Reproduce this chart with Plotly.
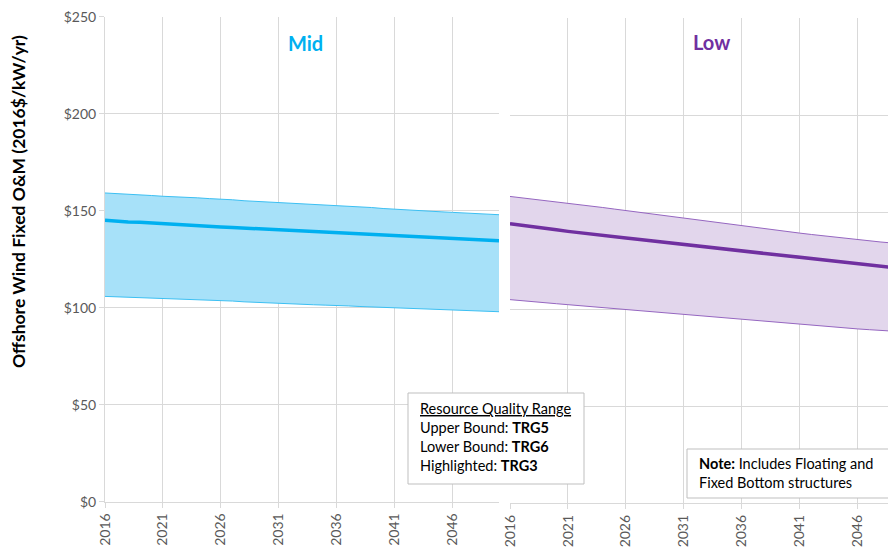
import plotly.graph_objects as go

years = list(range(2016, 2051))

mid_upper = [159.1, 158.8, 158.6, 158.4, 157.8, 157.4, 157.2, 157.0, 156.6, 156.2,
             156.0, 155.6, 155.1, 154.8, 154.6, 154.3, 154.0, 153.6, 153.4, 153.0,
             152.6, 152.3, 151.9, 151.6, 151.1, 150.7, 150.3, 149.9, 149.7, 149.4,
             149.1, 148.8, 148.4, 148.1, 147.9]
mid_center = [145.0, 144.5, 144.2, 144.0, 143.6, 143.3, 143.0, 142.7, 142.4, 142.0,
              141.6, 141.3, 141.0, 140.7, 140.3, 140.0, 139.8, 139.5, 139.1, 138.8,
              138.5, 138.2, 137.9, 137.6, 137.3, 137.1, 136.8, 136.5, 136.1, 135.9,
              135.6, 135.3, 135.0, 134.7, 134.5]
mid_lower = [105.8, 105.6, 105.4, 105.2, 105.0, 104.8, 104.6, 104.4, 104.1, 103.8,
             103.6, 103.4, 103.0, 102.7, 102.4, 102.2, 102.0, 101.8, 101.5, 101.3,
             101.2, 100.9, 100.6, 100.4, 100.2, 100.0, 99.8, 99.5, 99.3, 99.1,
             99.0, 98.7, 98.5, 98.2, 97.9]

low_upper = [158.2, 157.5, 156.9, 156.2, 155.6, 154.8, 154.0, 153.2, 152.5, 151.7,
             150.9, 150.2, 149.4, 148.6, 147.9, 147.1, 146.3, 145.6, 144.8, 144.0,
             143.3, 142.5, 141.7, 140.9, 140.1, 139.3, 138.6, 137.9, 137.3, 136.6,
             135.9, 135.3, 134.7, 134.2, 133.7]
low_center = [144.2, 143.3, 142.6, 141.9, 141.0, 140.2, 139.6, 138.9, 138.2, 137.5,
              136.8, 136.1, 135.4, 134.7, 134.0, 133.3, 132.7, 132.1, 131.5, 130.9,
              130.2, 129.5, 128.8, 128.2, 127.5, 126.8, 126.1, 125.4, 124.7, 124.1,
              123.4, 122.7, 122.1, 121.6, 121.1]
low_lower = [105.0, 104.4, 103.9, 103.4, 102.9, 102.4, 101.9, 101.4, 100.8, 100.3,
             99.8, 99.3, 98.8, 98.3, 97.8, 97.3, 96.8, 96.3, 95.8, 95.2,
             94.7, 94.2, 93.7, 93.1, 92.6, 92.1, 91.6, 91.2, 90.7, 90.3,
             89.9, 89.5, 89.1, 88.7, 88.4]

x_ticks = [2016, 2021, 2026, 2031, 2036, 2041, 2046]
y_ticks = [0, 50, 100, 150, 200, 250]
y_tick_labels = ["$0", "$50", "$100", "$150", "$200", "$250"]

panel_titles = ["Mid", "Low"]
y_title = "Offshore Wind Fixed O&M (2016$/kW/yr)"
range_lines = ["<u>Resource Quality Range</u>", "Upper Bound: <b>TRG5</b>",
               "Lower Bound: <b>TRG6</b>", "Highlighted: <b>TRG3</b>"]
note_lines = ["<b>Note:</b> Includes Floating and", "Fixed Bottom structures"]

# page body has an 8px margin, so the figure is sized to fill the rest of the window
OFF = 8
W, H = 896 - OFF, 550 - OFF
FONT = "Lato"
GRID = "#D9D9D9"
TICKC = "#595959"
BOXC = "#BFBFBF"

fig = go.Figure()

def band(xa, ya, lower, upper, center, fillc, edgec, linec):
    fig.add_trace(go.Scatter(x=years, y=lower, mode="lines", xaxis=xa, yaxis=ya,
                             line=dict(color=edgec, width=1), showlegend=False, hoverinfo="skip"))
    fig.add_trace(go.Scatter(x=years, y=upper, mode="lines", xaxis=xa, yaxis=ya, fill="tonexty",
                             fillcolor=fillc, line=dict(color=edgec, width=1), showlegend=False))
    fig.add_trace(go.Scatter(x=years, y=center, mode="lines", xaxis=xa, yaxis=ya,
                             line=dict(color=linec, width=3.5), showlegend=False))

band("x", "y", mid_lower, mid_upper, mid_center, "#A7E1F9", "#3CBFF2", "#00B0F0")
band("x2", "y2", low_lower, low_upper, low_center, "#E2D6EC", "#9566C0", "#7030A0")

def px_x(p):
    return (p - OFF) / W

def px_y(p):
    return 1 - (p - OFF) / H

xcommon = dict(tickvals=x_ticks, tickangle=-90, showgrid=True, gridcolor=GRID, gridwidth=1,
               showline=True, linecolor=GRID, linewidth=1, ticks="outside", ticklen=5,
               tickcolor=GRID, tickfont=dict(family=FONT, size=14, color=TICKC),
               zeroline=False, automargin=False, ticklabeloverflow="allow")
ycommon = dict(range=[0, 250.05], tickvals=y_ticks, showgrid=True, gridcolor=GRID, gridwidth=1,
               zeroline=False, automargin=False, ticklabeloverflow="allow")

fig.update_layout(
    width=W, height=H,
    margin=dict(l=0, r=0, t=0, b=0, pad=0, autoexpand=False),
    plot_bgcolor="white", paper_bgcolor="white",
    xaxis=dict(domain=[px_x(105), px_x(499)], range=[2016, 2050], anchor="y", **xcommon),
    xaxis2=dict(domain=[px_x(510), 1.0], range=[2016, 2049.3], anchor="y2", **xcommon),
    yaxis=dict(domain=[px_y(501.7), px_y(16.5)], anchor="x", ticktext=y_tick_labels,
               ticks="outside", ticklen=5, tickcolor=GRID, showline=True, linecolor=GRID,
               tickfont=dict(family=FONT, size=14, color=TICKC), **ycommon),
    yaxis2=dict(domain=[px_y(503.3), px_y(18.3)], anchor="x2", showticklabels=False,
                showline=False, **ycommon),
    showlegend=False,
)

def label(text, x, y, size, color="black", xanchor="left", yanchor="middle", angle=0):
    fig.add_annotation(text=text, x=px_x(x), y=px_y(y), xref="paper", yref="paper",
                       xanchor=xanchor, yanchor=yanchor, showarrow=False, textangle=angle,
                       font=dict(family=FONT, size=size, color=color))

label("<b>%s</b>" % panel_titles[0], 305, 43, 20, "#00B0F0", xanchor="center")
label("<b>%s</b>" % panel_titles[1], 711, 42, 20, "#7030A0", xanchor="center")
label("<b>%s</b>" % y_title, 18, 202, 17.5, "black", xanchor="center", angle=-90)

# boxes
fig.add_shape(type="rect", xref="paper", yref="paper", x0=px_x(408), x1=px_x(584),
              y0=px_y(484), y1=px_y(393), line=dict(color=BOXC, width=1), fillcolor="white",
              layer="above")
fig.add_shape(type="rect", xref="paper", yref="paper", x0=px_x(687), x1=px_x(910),
              y0=px_y(498), y1=px_y(449), line=dict(color=BOXC, width=1), fillcolor="white",
              layer="above")

for i, t in enumerate(range_lines):
    label(t, 418, 408 + i * 19.3, 14.5)
for i, t in enumerate(note_lines):
    label(t, 697, 463.5 + i * 19.3, 14.5)

fig.write_html("out.html")
